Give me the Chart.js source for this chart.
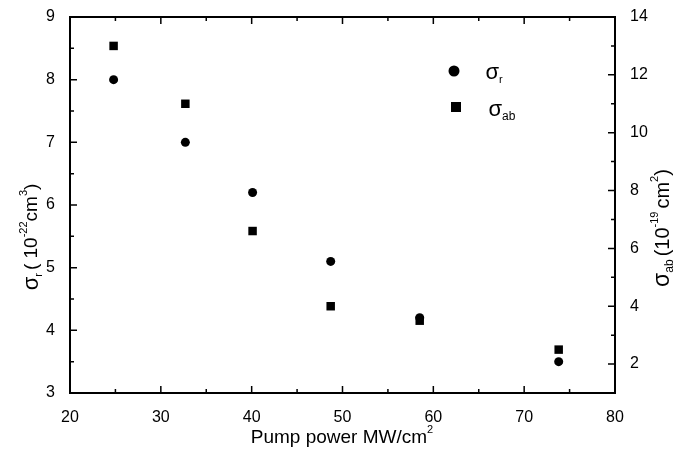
<!DOCTYPE html>
<html><head><meta charset="utf-8">
<script src="https://cdn.jsdelivr.net/npm/chart.js@4/dist/chart.umd.min.js"></script>
<style>html,body{margin:0;padding:0;background:#fff}#wrap{width:681px;height:462px}</style>
</head><body><div id="wrap"><canvas id="c" width="681" height="462"></canvas></div>
<script>
// Data
const pumpPower = [24.8, 32.7, 40.1, 48.7, 58.5, 73.8];
const sigmaR    = [8.0, 7.0, 6.2, 5.1, 4.2, 3.5];     // left axis, 10^-22 cm^3
const sigmaAb   = [13.0, 11.0, 6.6, 4.0, 3.5, 2.5];   // right axis, 10^-19 cm^2
const xTicks     = [20, 30, 40, 50, 60, 70, 80];
const xMinor     = [25, 35, 45, 55, 65, 75];
const leftTicks  = [3, 4, 5, 6, 7, 8, 9];
const leftMinor  = [3.5, 4.5, 5.5, 6.5, 7.5, 8.5];
const rightTicks = [2, 4, 6, 8, 10, 12, 14];
const rightMinor = [1, 3, 5, 7, 9, 11, 13];

const FONT = '"Liberation Sans", Arial, sans-serif';

function drawRich(ctx, segs, x, y, rot) {
  ctx.save();
  ctx.translate(x, y);
  ctx.rotate(rot);
  let total = 0;
  segs.forEach(s => { ctx.font = s.s + 'px ' + FONT; s.w = ctx.measureText(s.t).width + (s.gap || 0); total += s.w; });
  let cx = -total / 2;
  ctx.fillStyle = '#000';
  ctx.textBaseline = 'middle';
  ctx.textAlign = 'left';
  segs.forEach(s => { ctx.font = s.s + 'px ' + FONT; ctx.fillText(s.t, cx, s.dy || 0); cx += s.w; });
  ctx.restore();
}

const framePlugin = {
  id: 'frame',
  afterDatasetsDraw(chart) {
    const ctx = chart.ctx, a = chart.chartArea;
    const sx = chart.scales.x, sy = chart.scales.y, sy1 = chart.scales.y1;
    ctx.save();
    ctx.strokeStyle = '#000';
    ctx.lineWidth = 2;
    ctx.strokeRect(a.left, a.top, a.right - a.left, a.bottom - a.top);
    ctx.lineWidth = 1.5;
    ctx.beginPath();
    const tick = (vals, len, fn) => vals.forEach(v => fn(v, len));
    const xt = (v, len) => { const p = sx.getPixelForValue(v);
      ctx.moveTo(p, a.bottom); ctx.lineTo(p, a.bottom - len);
      ctx.moveTo(p, a.top); ctx.lineTo(p, a.top + len); };
    tick(xTicks, 7, xt); tick(xMinor, 4, xt);
    const yt = (v, len) => { const p = sy.getPixelForValue(v);
      ctx.moveTo(a.left, p); ctx.lineTo(a.left + len, p); };
    tick(leftTicks, 7, yt); tick(leftMinor, 4, yt);
    const y1t = (v, len) => { const p = sy1.getPixelForValue(v);
      ctx.moveTo(a.right, p); ctx.lineTo(a.right - len, p); };
    tick(rightTicks, 7, y1t); tick(rightMinor, 4, y1t);
    ctx.stroke();

    // legend
    const lx = 454, ly = [71, 107];
    ctx.fillStyle = '#000';
    ctx.beginPath(); ctx.arc(lx, ly[0], 5.5, 0, Math.PI * 2); ctx.fill();
    ctx.fillRect(lx + 2 - 5, ly[1] - 5, 10, 10);
    ctx.restore();
    drawRich(ctx, [{t:'σ', s:22}, {t:'r', s:11, dy:7}], 494, ly[0] + 2, 0);
    drawRich(ctx, [{t:'σ', s:22}, {t:'ab', s:12, dy:7}], 502, ly[1] + 3, 0);

    // axis titles
    drawRich(ctx, [{t:'Pump power MW/cm', s:19}, {t:'2', s:11, dy:-8}], 342, 438, 0);
    drawRich(ctx, [{t:'σ', s:22}, {t:'r', s:11, dy:7, gap:3}, {t:'( 10', s:19}, {t:'-22', s:11, dy:-8},
                   {t:'cm', s:19}, {t:'3', s:11, dy:-8}, {t:')', s:19}], 32, 237, -Math.PI / 2);
    drawRich(ctx, [{t:'σ', s:23}, {t:'ab', s:12, dy:7, gap:3}, {t:'(10', s:20}, {t:'-19', s:11, dy:-8, gap:3},
                   {t:'cm', s:20}, {t:'2', s:11, dy:-8}, {t:')', s:20}], 663, 228, -Math.PI / 2);
  }
};

new Chart(document.getElementById('c'), {
  type: 'scatter',
  data: {
    datasets: [
      { label: 'σr', data: pumpPower.map((x, i) => ({x, y: sigmaR[i]})), yAxisID: 'y',
        pointStyle: 'circle', pointRadius: 4.5, backgroundColor: '#000', borderColor: '#000', borderWidth: 0 },
      { label: 'σab', data: pumpPower.map((x, i) => ({x, y: sigmaAb[i]})), yAxisID: 'y1',
        pointStyle: 'rect', pointRadius: 6, backgroundColor: '#000', borderColor: '#000', borderWidth: 0 }
    ]
  },
  options: {
    responsive: false,
    animation: false,
    layout: { padding: { top: 17, left: 0, right: 0, bottom: 0 } },
    plugins: { legend: { display: false }, tooltip: { enabled: false } },
    scales: {
      x: {
        type: 'linear', min: 20, max: 80, position: 'bottom',
        grid: { display: false }, border: { display: false },
        afterBuildTicks: s => { s.ticks = xTicks.map(v => ({value: v})); },
        afterFit: s => { s.height = 69; },
        ticks: { color: '#000', padding: 7, font: { size: 16, family: FONT }, maxRotation: 0 }
      },
      y: {
        type: 'linear', min: 3, max: 9, position: 'left',
        grid: { display: false }, border: { display: false },
        afterBuildTicks: s => { s.ticks = leftTicks.map(v => ({value: v})); },
        afterFit: s => { s.width = 70; },
        ticks: { color: '#000', padding: 7, font: { size: 16, family: FONT } }
      },
      y1: {
        type: 'linear', min: 1, max: 14, position: 'right',
        grid: { display: false }, border: { display: false },
        afterBuildTicks: s => { s.ticks = rightTicks.map(v => ({value: v})); },
        afterFit: s => { s.width = 66; },
        ticks: { color: '#000', padding: 7, font: { size: 16, family: FONT } }
      }
    }
  },
  plugins: [framePlugin]
});
</script>
</body></html>
